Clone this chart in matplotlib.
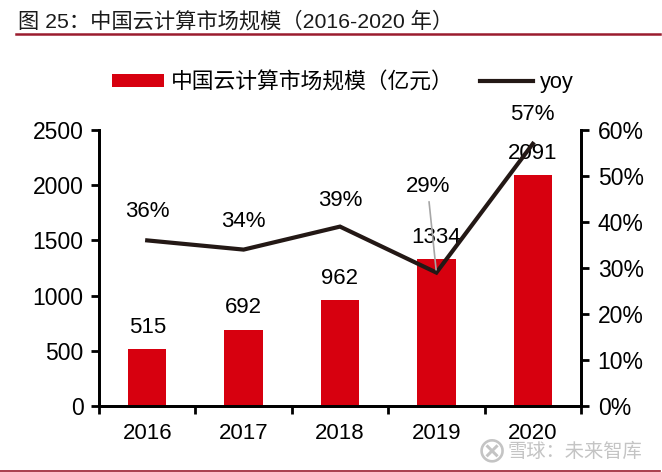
import matplotlib
matplotlib.use("Agg")
import matplotlib.pyplot as plt

plt.rcParams['font.family'] = ['Liberation Sans', 'Noto Sans CJK SC', 'DejaVu Sans']

years = ['2016', '2017', '2018', '2019', '2020']
market_size = [515, 692, 962, 1334, 2091]
yoy = [36, 34, 39, 29, 57]
left_ticks = [0, 500, 1000, 1500, 2000, 2500]
right_ticks = [0, 10, 20, 30, 40, 50, 60]

RED = '#d7000f'
DARK = '#231815'
W, H = 662, 472

fig = plt.figure(figsize=(W / 100, H / 100), dpi=100)
ax = fig.add_axes([99 / W, 1 - 406 / H, (581 - 99) / W, (406 - 130) / H])
ax2 = ax.twinx()

x = list(range(len(years)))
bars = ax.bar(x, market_size, width=0.4, color=RED, label='中国云计算市场规模（亿元）')
line, = ax2.plot(x, yoy, color=DARK, lw=3, label='yoy', solid_joinstyle='miter')

ax.set_xlim(-0.5, 4.5)
ax.set_ylim(0, 2500)
ax2.set_ylim(0, 60)
ax.set_xticks([i - 0.5 for i in range(6)])
ax.set_xticklabels([])
ax.set_xticks(x, minor=True)
ax.set_xticklabels(years, minor=True, fontsize=16)
ax.tick_params(axis='x', which='major', length=6, width=2, direction='out')
ax.tick_params(axis='x', which='minor', length=0, pad=12.5)
ax.set_yticks(left_ticks)
ax.tick_params(axis='y', labelsize=16.5, length=6, width=2, pad=5)
ax2.set_yticks(right_ticks)
ax2.set_yticklabels([f'{v}%' for v in right_ticks])
ax2.tick_params(axis='y', labelsize=16.5, length=6, width=2, pad=6)

for a in (ax, ax2):
    a.spines['top'].set_visible(False)
    for side in ('left', 'right', 'bottom'):
        a.spines[side].set_linewidth(2)

# bar labels
for i, v in enumerate(market_size):
    ax.annotate(str(v), (i, v), xytext=(0, 8), textcoords='offset points',
                ha='center', va='bottom', fontsize=16)

# yoy labels, offsets in points
yoy_offsets = [(0, 13), (0, 13), (0, 11.5), (-6, 54.5), (0, 13.5)]
for i, v in enumerate(yoy):
    ax2.annotate(f'{v}%', (i, v), xytext=yoy_offsets[i], textcoords='offset points',
                 ha='center', va='bottom', fontsize=16, zorder=5)

# leader line of the 2019 label
ax2.annotate('', (3, yoy[3]), xytext=(-5.5, 53), textcoords='offset points',
             arrowprops=dict(arrowstyle='-', color='#a6a6a6', lw=1.2))

# title and rules
fig.text(18 / W, 1 - 21 / H, '图 25：中国云计算市场规模（2016-2020 年）', fontsize=15.3,
         va='center', ha='left', color='#1a1a1a')
fig.add_artist(plt.Line2D([16 / W, 660 / W], [1 - 33.5 / H] * 2, color='#9b1c2e', lw=1.8))
fig.add_artist(plt.Line2D([0, 660 / W], [1 - 471 / H] * 2, color='#9b1c2e', lw=1.2))

fig.legend(handles=[bars, line], loc='center left', bbox_to_anchor=(112 / W, 1 - 82.5 / H),
           ncol=2, frameon=False, fontsize=15.7, handlelength=2.4, handleheight=0.55,
           handletextpad=0.32, columnspacing=1.2, borderpad=0, borderaxespad=0)

# watermark
fig.text(508 / W, 1 - 452 / H, '雪球：未来智库', fontsize=13.9, color='#c4c4c4',
         va='center', ha='left')
fig.text(492 / W, 1 - 451 / H, '⊗', fontsize=26, color='#c4c4c4',
         va='center', ha='center', family=['DejaVu Sans'])

fig.savefig('out.png', dpi=100)
